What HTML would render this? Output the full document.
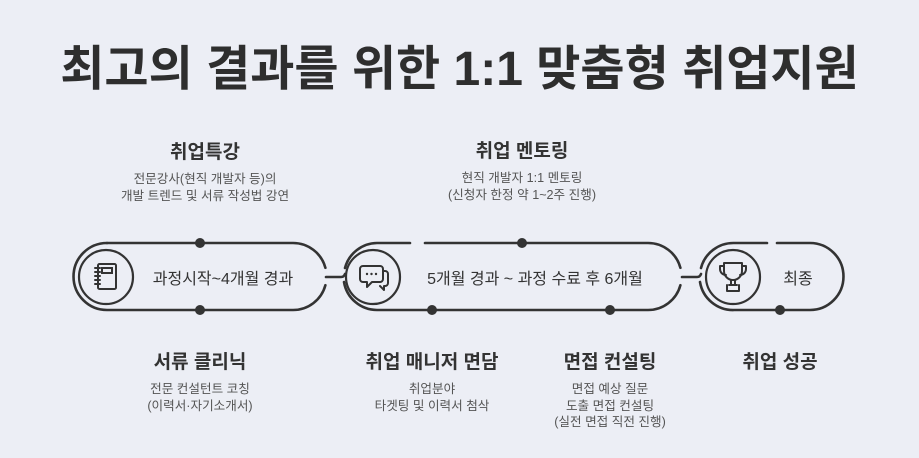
<!DOCTYPE html>
<html><head><meta charset="utf-8"><style>
html,body{margin:0;padding:0;background:#eceef5;}
body{width:919px;height:458px;overflow:hidden;position:relative;font-family:"Liberation Sans","Noto Sans CJK KR",sans-serif;color:#333;}
.t{position:absolute;text-align:center;white-space:nowrap;transform:translateX(-50%);}
h1{position:absolute;left:0;width:919px;top:38px;margin:0;text-align:center;font-size:48px;font-weight:700;color:#2e2e2e;line-height:64px;}
.h{font-size:19px;font-weight:700;color:#333;line-height:26px;}
.d{font-size:12.6px;color:#555;line-height:16.5px;margin-top:5px;}
.p{position:absolute;font-size:16px;color:#333;transform:translate(-50%,-50%);white-space:nowrap;}
</style></head><body>
<h1>최고의 결과를 위한 1:1 맞춤형 취업지원</h1>
<svg width="919" height="458" style="position:absolute;left:0;top:0" fill="none" stroke="#333" stroke-width="2.6" stroke-linecap="round">
<path d="M107,243 H293 A33.5,33.5 0 0 1 325.4,267.8"/>
<path d="M325.4,285.2 A33.5,33.5 0 0 1 293,310 H107 A33.5,33.5 0 0 1 107,243"/>
<path d="M326,277 H341 Q344,277 345,274"/>
<path d="M345,268 A33.5,33.5 0 0 1 377,243 H410"/>
<path d="M425,243 H648 A33.5,33.5 0 0 1 680.4,267.8"/>
<path d="M680.4,285.2 A33.5,33.5 0 0 1 648,310 H377 A33.5,33.5 0 0 1 344,282"/>
<path d="M682,277 H697 Q700,277 701,274"/>
<path d="M701,268 A33.5,33.5 0 0 1 734,243 H767"/>
<path d="M777,243 H810 A33.5,33.5 0 0 1 810,310 H734 A33.5,33.5 0 0 1 700,282"/>
<circle cx="106" cy="277" r="27" stroke-width="2.2"/>
<circle cx="373" cy="277" r="27" stroke-width="2.2"/>
<circle cx="733" cy="277" r="27" stroke-width="2.2"/>
<g stroke-width="2">
<rect x="98" y="264" width="18" height="25" rx="1.5"/>
<rect x="102" y="268" width="10" height="5"/>
<path d="M95,268h5M95,272h5M95,276h5M95,280h5M95,284h5"/>
</g>
<g stroke-width="2" stroke-linejoin="round">
<path d="M363,266 h17 a3,3 0 0 1 3,3 v10 a3,3 0 0 1 -3,3 h-8 l-5,5 v-5 h-4 a3,3 0 0 1 -3,-3 v-10 a3,3 0 0 1 3,-3z"/>
<path d="M383,271 h2 a3,3 0 0 1 3,3 v9 a3,3 0 0 1 -3,3 h-1 v4 l-4,-4"/>
</g>
<g fill="#333" stroke="none"><circle cx="367" cy="274" r="1.2"/><circle cx="371.5" cy="274" r="1.2"/><circle cx="376" cy="274" r="1.2"/></g>
<g stroke-width="2" stroke-linejoin="round">
<path d="M724,263 h18 v8 a9,9 0 0 1 -18,0z"/>
<path d="M724,266 h-4 v3 a6,6 0 0 0 6,6 M742,266 h4 v3 a6,6 0 0 1 -6,6"/>
<path d="M731,280 v5 M735,280 v5 M729,285 h8 M727,285 v6 h12 v-6"/>
</g>
<g fill="#333" stroke="none">
<circle cx="200" cy="243" r="5"/><circle cx="522" cy="243" r="5"/>
<circle cx="200" cy="310" r="5"/><circle cx="432" cy="310" r="5"/><circle cx="610" cy="310" r="5"/><circle cx="780" cy="310" r="5"/>
</g>
</svg>
<div class="p" style="left:223px;top:277px">과정시작~4개월 경과</div>
<div class="p" style="left:535px;top:277px">5개월 경과 ~ 과정 수료 후 6개월</div>
<div class="p" style="left:798px;top:277px">최종</div>

<div class="t" style="left:205px;top:140px"><div class="h">취업특강</div><div class="d">전문강사(현직 개발자 등)의<br>개발 트렌드 및 서류 작성법 강연</div></div>
<div class="t" style="left:522px;top:139px"><div class="h">취업 멘토링</div><div class="d">현직 개발자 1:1 멘토링<br>(신청자 한정 약 1~2주 진행)</div></div>
<div class="t" style="left:200px;top:350px"><div class="h">서류 클리닉</div><div class="d">전문 컨설턴트 코칭<br>(이력서·자기소개서)</div></div>
<div class="t" style="left:432px;top:350px"><div class="h">취업 매니저 면담</div><div class="d">취업분야<br>타겟팅 및 이력서 첨삭</div></div>
<div class="t" style="left:610px;top:350px"><div class="h">면접 컨설팅</div><div class="d">면접 예상 질문<br>도출 면접 컨설팅<br>(실전 면접 직전 진행)</div></div>
<div class="t" style="left:780px;top:350px"><div class="h">취업 성공</div></div>
</body></html>
